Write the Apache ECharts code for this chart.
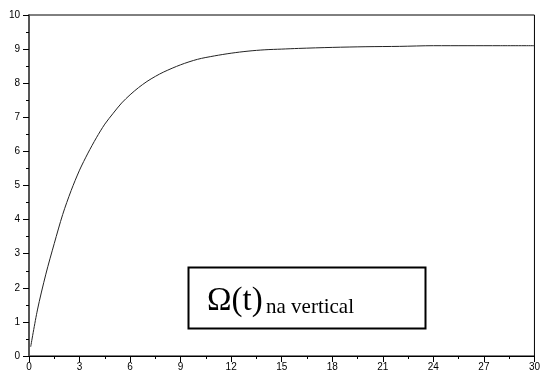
<!DOCTYPE html>
<html>
<head>
<meta charset="utf-8">
<script src="https://cdn.jsdelivr.net/npm/echarts@6/dist/echarts.min.js"></script>
<style>
  html, body { margin: 0; padding: 0; background: #fff; }
  #chart { width: 543px; height: 376px; }
</style>
</head>
<body>
<div id="chart"></div>
<script>
// curve: time (x) and value (y)
const tValues = [0.1, 0.5, 1, 1.5, 2, 2.5, 3, 3.5, 4, 4.5, 5, 5.5, 6, 6.5, 7, 7.5, 8, 9, 10, 11, 12, 13, 14, 15, 16, 18, 20, 22, 24, 26, 28, 30]
const omega = [0.27, 1.35, 2.4, 3.3, 4.15, 4.85, 5.45, 5.95, 6.4, 6.8, 7.12, 7.42, 7.66, 7.87, 8.05, 8.2, 8.33, 8.54, 8.7, 8.8, 8.88, 8.94, 8.98, 9.0, 9.02, 9.05, 9.07, 9.08, 9.1, 9.1, 9.1, 9.1]
const xTicks = [0, 3, 6, 9, 12, 15, 18, 21, 24, 27, 30]
const yTicks = [0, 1, 2, 3, 4, 5, 6, 7, 8, 9, 10]
const boxLabel = 'Ω(t)'
const boxSub = 'na vertical'

const chart = echarts.init(document.getElementById('chart'), null, { renderer: 'canvas' })

const labelFont = {
  fontFamily: 'Liberation Sans',
  fontSize: 10,
  color: '#000',
}

const option = {
  animation: false,
  grid: {
    left: 29,
    right: 3,
    top: 15,
    bottom: 20,
    show: true,
    borderColor: '#000',
    borderWidth: 1,
  },
  xAxis: {
    type: 'value',
    min: xTicks[0],
    max: xTicks[xTicks.length - 1],
    interval: 3,
    axisLine: { show: true, onZero: false, lineStyle: { color: '#000', width: 1 } },
    axisTick: { show: true, inside: false, length: 6, lineStyle: { color: '#000' } },
    minorTick: { show: true, splitNumber: 2, length: 3, lineStyle: { color: '#000' } },
    splitLine: { show: false },
    axisLabel: { ...labelFont, inside: false, margin: 6, showMaxLabel: true },
  },
  yAxis: {
    type: 'value',
    min: yTicks[0],
    max: yTicks[yTicks.length - 1],
    interval: 1,
    axisLine: { show: true, onZero: false, lineStyle: { color: '#555', width: 2 } },
    axisTick: { show: true, inside: false, length: 6, lineStyle: { color: '#000' } },
    minorTick: { show: true, splitNumber: 2, length: 3, lineStyle: { color: '#000' } },
    splitLine: { show: false },
    axisLabel: { ...labelFont, inside: false, margin: 9 },
  },
  series: [
    {
      type: 'line',
      data: tValues.map((t, i) => [t, omega[i]]),
      smooth: 0.3,
      showSymbol: false,
      lineStyle: { color: '#222', width: 1 },
    },
  ],
  graphic: [
    {
      type: 'rect',
      shape: { x: 188.5, y: 267.5, width: 237, height: 61 },
      style: { fill: '#fff', stroke: '#000', lineWidth: 2 },
    },
    {
      type: 'text',
      x: 207,
      y: 318,
      style: {
        text: boxLabel,
        font: '33px "Liberation Serif"',
        fill: '#000',
        verticalAlign: 'bottom',
      },
    },
    {
      type: 'text',
      x: 266,
      y: 318,
      style: {
        text: boxSub,
        font: '21px "Liberation Serif"',
        fill: '#000',
        verticalAlign: 'bottom',
      },
    },
  ],
}

chart.setOption(option)
</script>
</body>
</html>
